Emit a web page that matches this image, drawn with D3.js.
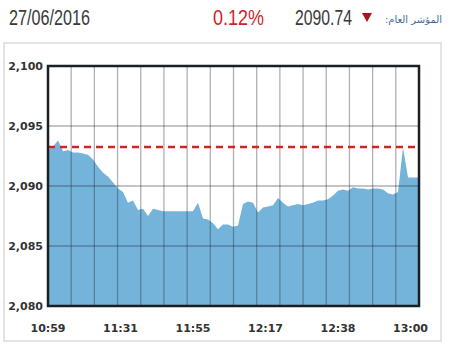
<!DOCTYPE html>
<html><head><meta charset="utf-8">
<script src="https://cdn.jsdelivr.net/npm/d3@7"></script>
<style>html,body{margin:0;padding:0;background:#fff;}</style>
</head><body>
<svg id="c" width="450" height="350"></svg>
<script>
const values = [2093.0,2093.3,2093.8,2092.9,2093.0,2092.8,2092.8,2092.7,2092.6,2092.2,
2091.6,2091.1,2090.8,2090.3,2089.8,2089.5,2088.6,2088.8,2088.0,2088.1,
2087.5,2088.1,2088.0,2087.9,2087.9,2087.9,2087.9,2087.9,2087.9,2087.9,
2088.6,2087.3,2087.2,2086.9,2086.4,2086.8,2086.8,2086.6,2086.7,2088.5,
2088.7,2088.6,2087.8,2088.2,2088.3,2088.4,2089.0,2088.6,2088.3,2088.4,
2088.5,2088.4,2088.5,2088.6,2088.8,2088.8,2088.9,2089.2,2089.6,2089.7,
2089.6,2089.9,2089.8,2089.8,2089.7,2089.8,2089.8,2089.7,2089.4,2089.3,
2089.5,2093.2,2090.7,2090.7,2090.7];
const timeLabels = ["10:59","11:31","11:55","12:17","12:38","13:00"];
const timeLabelIndex = [0,14.5,29,43.5,58,72.5];
const yTicks = [2080,2085,2090,2095,2100];
const refLevel = 2093.25;
const header = {date:"27/06/2016", change:"0.12%", value:"2090.74", label:"المؤشر العام:"};

const svg = d3.select("#c");
const L=48, R=419, T=66, B=306;

// outer frame
svg.append("rect").attr("x",4).attr("y",43).attr("width",437).attr("height",298)
  .attr("fill","none").attr("stroke","#dcdcdc").attr("stroke-width",1.5);

// header
svg.append("text").attr("x",9).attr("y",25).attr("font-family","Liberation Sans, Arial, sans-serif")
  .attr("font-size",22).attr("fill","#3a3a3a").attr("textLength",81).attr("lengthAdjust","spacingAndGlyphs")
  .text(header.date);
svg.append("text").attr("x",213).attr("y",25).attr("font-family","Liberation Sans, Arial, sans-serif")
  .attr("font-size",22).attr("fill","#d21f2b").attr("textLength",51).attr("lengthAdjust","spacingAndGlyphs")
  .text(header.change);
svg.append("text").attr("x",295).attr("y",25).attr("font-family","Liberation Sans, Arial, sans-serif")
  .attr("font-size",22).attr("fill","#3a3a3a").attr("textLength",57).attr("lengthAdjust","spacingAndGlyphs")
  .text(header.value);
svg.append("path").attr("d","M362,13 L372,13 L367,22 Z").attr("fill","#a3141c");
svg.append("text").attr("x",442).attr("y",23).attr("text-anchor","start").attr("direction","rtl")
  .style("direction","rtl").style("unicode-bidi","embed")
  .attr("font-family","DejaVu Sans, Noto Sans, sans-serif").attr("font-size",10).attr("fill","#3f6d9c")
  .text(header.label);

const x = d3.scaleLinear().domain([0, values.length-1]).range([L, R-1]);
const y = d3.scaleLinear().domain([2080, 2100]).range([B, T]);
const g = d3.scaleLinear().domain([0,16]).range([L, R]);

// area
const area = d3.area().x((d,i)=>x(i)).y0(y(2080)).y1(d=>y(d)).curve(d3.curveLinear);
svg.append("path").datum(values).attr("d",area).attr("fill","#74b4da");

// grid lines
const gridCol = "rgba(30,40,50,0.36)";
svg.append("g").selectAll("line").data(d3.range(1,16)).join("line")
  .attr("x1",d=>g(d)).attr("x2",d=>g(d)).attr("y1",T).attr("y2",B)
  .attr("stroke",gridCol).attr("stroke-width",1.3);
svg.append("g").selectAll("line").data(yTicks.slice(1,4)).join("line")
  .attr("x1",L).attr("x2",R).attr("y1",d=>y(d)).attr("y2",d=>y(d))
  .attr("stroke",gridCol).attr("stroke-width",1.3);

// reference dashed line
svg.append("line").attr("x1",L).attr("x2",R).attr("y1",y(refLevel)).attr("y2",y(refLevel))
  .attr("stroke","#d62222").attr("stroke-width",2.5).attr("stroke-dasharray","7,5");

// frame
svg.append("rect").attr("x",L).attr("y",T).attr("width",R-L).attr("height",B-T)
  .attr("fill","none").attr("stroke","#1b1f22").attr("stroke-width",2.5);

// y labels
const fmt = d3.format(",");
svg.append("g").selectAll("text").data(yTicks).join("text")
  .attr("x",43).attr("y",d=>y(d)).attr("dy","0.35em").attr("text-anchor","end")
  .attr("font-family","DejaVu Sans, sans-serif").attr("font-weight","bold").attr("font-size",11)
  .attr("fill","#333").text(d=>fmt(d));

// x labels
svg.append("g").selectAll("text").data(timeLabels).join("text")
  .attr("x",(d,i)=>x(timeLabelIndex[i])).attr("y",332).attr("text-anchor","middle")
  .attr("font-family","DejaVu Sans, sans-serif").attr("font-weight","bold").attr("font-size",11)
  .attr("fill","#333").text(d=>d);
</script>
</body></html>
